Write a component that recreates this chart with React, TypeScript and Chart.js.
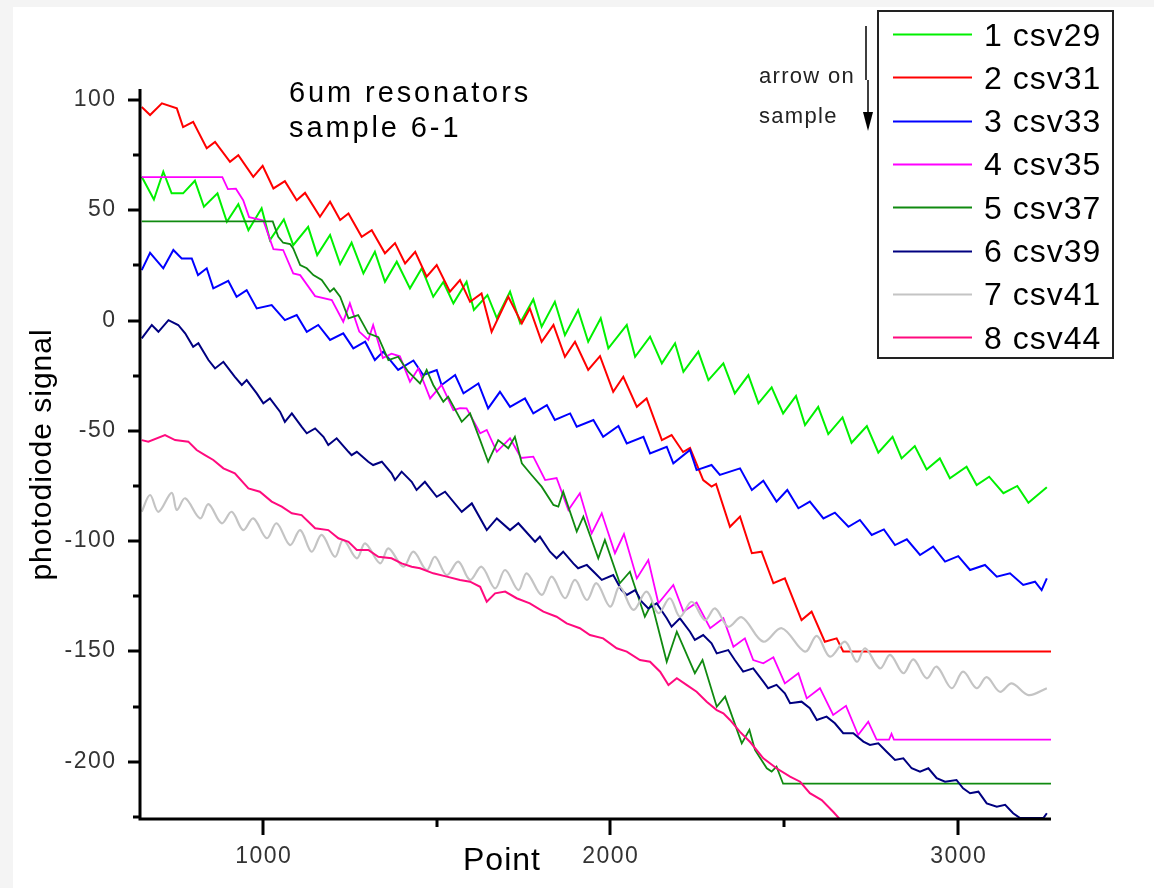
import { useEffect, useRef } from "react";
import { Chart, registerables } from "chart.js";

Chart.register(...registerables);

// ---- axes ----
const X_MIN = 646;
const X_MAX = 3268;
const Y_MIN = -226;
const Y_MAX = 105;
const X_MAJOR = [1000, 2000, 3000];
const X_MINOR = [1500, 2500];
const Y_MAJOR = [100, 50, 0, -50, -100, -150, -200];
const Y_MINOR = [75, 25, -25, -75, -125, -175, -225];
const X_TITLE = "Point";
const Y_TITLE = "photodiode signal";
const NOTE_LINES = ["6um resonators", "sample 6-1"];
const ARROW_LINES = ["arrow on", "sample"];

// ---- series ----
const seriesLabels = ["1 csv29", "2 csv31", "3 csv33", "4 csv35", "5 csv37", "6 csv39", "7 csv41", "8 csv44"];
const seriesColors = ["#00f000", "#ff0000", "#0000ff", "#ff00ff", "#108a10", "#000080", "#c4c4c4", "#ff0a7e"];

const csv29: [number, number][] = [
  [651, 65.2], [686, 54.9], [713, 67.5], [737, 57.7], [770, 57.7], [804, 63.4], [830, 51.6], [869, 57.7],
  [896, 44.8], [929, 52.8], [958, 41.0], [996, 50.9], [1020, 36.5], [1060, 45.9], [1087, 34.2], [1130, 42.5],
  [1156, 29.7], [1193, 38.8], [1222, 25.6], [1255, 35.3], [1289, 21.4], [1322, 31.2], [1351, 17.6], [1385, 26.7],
  [1423, 14.6], [1457, 23.7], [1490, 10.8], [1519, 17.5], [1548, 7.8], [1586, 17.6], [1607, 4.8], [1646, 11.6],
  [1673, 1.1], [1711, 13.1], [1740, -1.1], [1778, 9.6], [1802, -2.8], [1840, 8.5], [1869, -6.6], [1907, 4.8],
  [1936, -9.6], [1972, 1.0], [1994, -12.6], [2047, -2.0], [2071, -16.4], [2114, -7.3], [2148, -19.4], [2186, -10.3],
  [2210, -23.2], [2253, -14.1], [2282, -27.0], [2325, -19.4], [2358, -33.0], [2397, -24.7], [2426, -37.5], [2464, -30.3],
  [2497, -42.1], [2534, -34.2], [2560, -47.4], [2598, -39.1], [2627, -51.5], [2668, -43.9], [2694, -55.4], [2738, -47.8],
  [2771, -59.9], [2812, -52.7], [2838, -62.5], [2876, -56.9], [2910, -67.5], [2948, -62.5], [2977, -71.5], [3025, -66.3],
  [3054, -74.6], [3090, -70.8], [3131, -78.3], [3171, -75.0], [3203, -82.6], [3256, -75.6],
];

const csv31: [number, number][] = [
  [651, 96.8], [675, 93.2], [709, 98.5], [752, 96.2], [770, 87.7], [799, 90.1], [838, 78.1], [862, 81.0],
  [905, 72.0], [929, 75.0], [972, 65.2], [999, 70.2], [1030, 59.9], [1063, 63.2], [1097, 54.6], [1121, 57.9],
  [1164, 47.1], [1193, 53.9], [1222, 45.6], [1246, 48.6], [1284, 38.0], [1313, 41.0], [1351, 30.5], [1380, 35.1],
  [1409, 25.9], [1438, 31.2], [1471, 19.9], [1500, 25.2], [1538, 13.1], [1567, 18.4], [1596, 8.5], [1629, 12.3],
  [1658, -5.1], [1706, 10.8], [1745, -1.3], [1768, 5.5], [1802, -9.6], [1836, -2.0], [1869, -16.4], [1898, -9.6],
  [1936, -22.4], [1970, -16.1], [2008, -32.3], [2037, -25.5], [2076, -39.1], [2104, -35.3], [2148, -54.2], [2176, -51.9],
  [2209, -59.6], [2229, -57.8], [2267, -72.3], [2291, -75.3], [2304, -74.1], [2344, -93.5], [2373, -88.9], [2407, -105.5],
  [2435, -104.8], [2469, -119.1], [2502, -116.9], [2550, -135.8], [2579, -132.0], [2617, -145.6], [2651, -144.1], [2670, -150.0],
  [3268, -150.0],
];

const csv33: [number, number][] = [
  [651, 22.9], [675, 30.7], [713, 23.7], [742, 32.0], [766, 28.2], [795, 28.2], [813, 20.6], [838, 23.7],
  [857, 14.6], [900, 18.0], [924, 10.8], [953, 13.8], [982, 5.5], [1025, 7.0], [1063, 0.2], [1097, 2.5],
  [1126, -5.1], [1159, -2.0], [1193, -8.8], [1231, -5.8], [1260, -12.6], [1294, -9.6], [1322, -17.9], [1346, -14.1],
  [1389, -22.4], [1433, -18.1], [1461, -24.7], [1500, -22.4], [1514, -29.2], [1553, -24.7], [1577, -33.0], [1620, -28.5],
  [1648, -39.8], [1682, -32.3], [1711, -39.1], [1754, -35.3], [1778, -42.1], [1817, -38.3], [1840, -45.1], [1884, -42.1],
  [1903, -48.1], [1951, -45.1], [1979, -52.7], [2023, -47.8], [2047, -55.7], [2095, -52.7], [2114, -60.2], [2162, -57.2],
  [2181, -64.7], [2229, -58.7], [2248, -67.8], [2291, -65.5], [2315, -70.0], [2373, -67.0], [2407, -76.8], [2440, -72.6],
  [2478, -82.1], [2509, -76.8], [2541, -85.1], [2574, -82.1], [2613, -89.7], [2646, -87.1], [2685, -93.5], [2718, -90.4],
  [2752, -97.2], [2787, -94.7], [2819, -101.8], [2853, -99.2], [2891, -106.3], [2929, -102.5], [2963, -109.3], [3001, -106.8],
  [3035, -113.1], [3078, -110.8], [3112, -116.1], [3150, -114.6], [3188, -119.9], [3222, -118.4], [3241, -122.2], [3256, -116.9],
];

const csv35: [number, number][] = [
  [651, 65.0], [883, 65.0], [899, 59.6], [922, 59.8], [943, 54.6], [960, 46.9], [1001, 45.4], [1014, 39.5],
  [1030, 32.4], [1058, 32.0], [1087, 21.4], [1107, 20.6], [1150, 11.1], [1198, 9.3], [1231, -0.5], [1250, 7.8],
  [1277, -5.0], [1303, -8.8], [1317, -2.0], [1345, -17.0], [1370, -15.0], [1394, -16.2], [1423, -27.7], [1447, -21.7],
  [1481, -35.3], [1514, -29.2], [1548, -40.6], [1567, -39.7], [1586, -39.8], [1625, -51.1], [1644, -49.6], [1673, -59.5],
  [1711, -53.4], [1743, -62.3], [1778, -61.7], [1812, -72.3], [1845, -71.4], [1879, -85.9], [1912, -78.3], [1946, -96.5],
  [1975, -87.4], [2013, -105.5], [2039, -96.8], [2076, -116.9], [2109, -108.6], [2138, -128.2], [2181, -119.9], [2210, -132.0],
  [2248, -127.9], [2287, -139.5], [2325, -135.0], [2354, -147.9], [2387, -144.1], [2411, -153.9], [2440, -155.4], [2469, -152.7],
  [2502, -164.5], [2541, -159.9], [2565, -171.3], [2603, -166.7], [2641, -178.8], [2678, -174.7], [2713, -187.9], [2742, -181.9],
  [2766, -190.0], [2802, -190.0], [2809, -187.4], [2816, -190.0], [3268, -190.0],
];

const csv37: [number, number][] = [
  [651, 45.0], [1028, 45.0], [1044, 38.0], [1058, 35.3], [1078, 34.7], [1087, 32.7], [1107, 25.2], [1126, 23.7],
  [1145, 20.6], [1169, 18.4], [1193, 13.1], [1204, 14.6], [1222, 10.8], [1246, 1.0], [1274, 2.5], [1303, -5.8],
  [1332, -7.5], [1361, -17.9], [1389, -16.4], [1418, -23.2], [1452, -28.5], [1471, -22.4], [1490, -29.2], [1519, -36.8],
  [1533, -34.5], [1572, -45.9], [1596, -42.1], [1625, -54.2], [1648, -64.0], [1677, -54.2], [1706, -57.9], [1725, -52.7],
  [1745, -64.7], [1773, -70.0], [1802, -75.3], [1836, -83.6], [1850, -84.4], [1864, -77.6], [1903, -95.7], [1922, -88.9],
  [1965, -107.8], [1984, -99.5], [2027, -119.1], [2056, -113.9], [2099, -134.3], [2119, -128.2], [2162, -154.7], [2191, -141.1],
  [2243, -159.9], [2265, -153.9], [2306, -175.1], [2330, -170.5], [2378, -191.7], [2400, -185.6], [2416, -194.7], [2450, -203.0],
  [2464, -204.5], [2478, -202.3], [2497, -210.0], [3268, -210.0],
];

const csv39: [number, number][] = [
  [651, -8.1], [680, -2.0], [699, -5.1], [728, 0.2], [756, -2.0], [776, -5.8], [799, -11.9], [814, -10.3],
  [843, -17.9], [862, -21.7], [886, -18.7], [919, -25.5], [939, -29.2], [953, -27.0], [982, -33.0], [1001, -37.5],
  [1020, -35.3], [1049, -41.3], [1063, -45.9], [1083, -42.1], [1111, -48.1], [1126, -51.1], [1150, -48.9], [1174, -52.7],
  [1188, -56.4], [1212, -53.4], [1246, -59.5], [1255, -61.0], [1270, -59.5], [1303, -64.0], [1317, -65.5], [1342, -64.0],
  [1370, -69.3], [1380, -72.3], [1399, -68.5], [1428, -73.1], [1442, -76.8], [1466, -73.1], [1500, -79.9], [1524, -77.6],
  [1572, -86.7], [1601, -82.9], [1644, -95.0], [1673, -89.7], [1711, -95.0], [1735, -91.9], [1783, -100.3], [1797, -98.0],
  [1826, -104.8], [1845, -107.8], [1864, -104.8], [1893, -110.1], [1907, -112.3], [1932, -110.8], [1956, -114.6], [1975, -117.6],
  [2008, -115.4], [2032, -122.2], [2047, -124.4], [2071, -122.2], [2090, -127.5], [2109, -130.5], [2133, -128.2], [2162, -135.0],
  [2176, -138.8], [2200, -135.0], [2229, -141.1], [2243, -144.8], [2267, -142.6], [2291, -146.3], [2306, -150.9], [2339, -149.4],
  [2358, -153.9], [2382, -159.2], [2411, -157.7], [2440, -163.7], [2454, -166.7], [2478, -165.2], [2502, -169.0], [2517, -173.5],
  [2550, -172.8], [2574, -175.8], [2594, -181.1], [2622, -179.6], [2646, -182.6], [2670, -187.1], [2699, -187.1], [2728, -190.9],
  [2747, -192.4], [2771, -191.7], [2795, -195.5], [2819, -199.2], [2843, -198.5], [2867, -203.0], [2891, -204.5], [2915, -203.0],
  [2939, -207.5], [2963, -209.1], [2996, -208.3], [3015, -212.1], [3035, -214.3], [3059, -213.6], [3083, -218.9], [3112, -220.4],
  [3136, -219.6], [3159, -223.4], [3179, -225.6], [3246, -225.6], [3256, -223.4],
];

const csv41: [number, number][] = [
  [651, -86.7], [675, -79.1], [699, -86.7], [737, -78.1], [752, -85.9], [776, -80.6], [819, -89.7], [843, -83.2],
  [881, -91.9], [910, -86.7], [943, -95.0], [972, -89.7], [1011, -98.7], [1039, -91.9], [1078, -101.8], [1107, -95.0],
  [1140, -104.8], [1169, -97.2], [1207, -107.1], [1231, -99.5], [1270, -107.8], [1294, -101.0], [1337, -110.1], [1361, -103.3],
  [1404, -111.6], [1433, -104.8], [1471, -113.1], [1495, -107.1], [1529, -115.4], [1562, -109.3], [1596, -117.6], [1629, -111.6],
  [1668, -121.4], [1697, -113.1], [1735, -122.2], [1759, -114.6], [1802, -124.4], [1831, -116.1], [1869, -125.9], [1898, -117.6],
  [1932, -126.7], [1960, -119.1], [1999, -129.7], [2027, -120.7], [2066, -131.2], [2104, -122.9], [2138, -132.7], [2171, -125.9],
  [2200, -134.3], [2234, -127.5], [2272, -135.8], [2301, -130.5], [2339, -138.8], [2378, -134.5], [2440, -145.6], [2493, -139.5],
  [2560, -150.1], [2594, -143.0], [2632, -152.4], [2675, -145.6], [2709, -154.7], [2733, -148.6], [2776, -157.7], [2805, -151.6],
  [2843, -159.9], [2872, -153.6], [2910, -162.2], [2939, -156.9], [2982, -166.7], [3015, -159.2], [3054, -166.7], [3083, -161.7],
  [3121, -168.3], [3155, -164.5], [3203, -169.8], [3256, -166.7],
];

const csv44: [number, number][] = [
  [651, -54.2], [670, -54.9], [718, -51.9], [747, -54.2], [785, -54.9], [809, -58.7], [833, -61.0], [857, -63.2],
  [886, -67.0], [919, -69.3], [958, -76.1], [991, -77.6], [1025, -82.1], [1054, -84.4], [1083, -87.4], [1111, -88.2],
  [1150, -94.2], [1188, -95.0], [1217, -98.7], [1246, -100.3], [1270, -104.0], [1303, -104.0], [1332, -107.1], [1370, -107.8],
  [1399, -110.1], [1428, -111.6], [1452, -112.3], [1490, -114.6], [1529, -116.1], [1567, -117.6], [1596, -118.4], [1625, -120.7],
  [1644, -127.5], [1668, -123.7], [1697, -122.9], [1730, -125.9], [1768, -128.2], [1807, -132.0], [1845, -134.3], [1874, -137.3],
  [1912, -139.5], [1941, -142.6], [1979, -144.1], [2018, -148.6], [2047, -150.1], [2085, -153.9], [2114, -154.7], [2143, -159.2],
  [2167, -165.2], [2191, -162.2], [2219, -165.2], [2248, -168.3], [2277, -172.8], [2306, -176.6], [2325, -178.1], [2344, -181.1],
  [2373, -186.5], [2402, -191.1], [2440, -198.5], [2478, -203.0], [2517, -206.8], [2546, -209.1], [2574, -214.3], [2608, -217.4],
  [2641, -222.7], [2675, -228.7],
];

const seriesData = [csv29, csv31, csv33, csv35, csv37, csv39, csv41, csv44];
const seriesTension = [0, 0, 0, 0, 0, 0, 0.35, 0];
const seriesWidth = [2, 2, 2, 1.8, 1.8, 2, 2.2, 2];

const FONT = '"Liberation Sans", Arial, Helvetica, sans-serif';

function txt(ctx: CanvasRenderingContext2D, s: string, x: number, y: number, size: number, spacing: number, color: string, align: CanvasTextAlign = "left", baseline: CanvasTextBaseline = "alphabetic") {
  ctx.font = `${size}px ${FONT}`;
  (ctx as any).letterSpacing = `${spacing}px`;
  ctx.fillStyle = color;
  ctx.textAlign = align;
  ctx.textBaseline = baseline;
  let dx = 0;
  if (align === "center") dx = spacing / 2;
  if (align === "right") dx = spacing;
  ctx.fillText(s, x + dx, y);
}

const decor = {
  id: "decor",
  beforeDraw(chart: any) {
    const ctx = chart.ctx as CanvasRenderingContext2D;
    ctx.save();
    ctx.fillStyle = "#f4f4f4";
    ctx.fillRect(0, 0, chart.width, chart.height);
    ctx.fillStyle = "#ffffff";
    ctx.fillRect(13, 7, chart.width - 13, chart.height - 7);
    ctx.restore();
  },
  afterDraw(chart: any) {
    const ctx = chart.ctx as CanvasRenderingContext2D;
    const a = chart.chartArea;
    const xs = chart.scales.x;
    const ys = chart.scales.y;
    ctx.save();
    // axes
    ctx.strokeStyle = "#000";
    ctx.lineWidth = 3;
    ctx.lineCap = "butt";
    ctx.beginPath();
    ctx.moveTo(a.left, a.top);
    ctx.lineTo(a.left, a.bottom);
    ctx.lineTo(a.right, a.bottom);
    ctx.stroke();
    // y ticks
    for (const v of Y_MAJOR) {
      const p = Math.round(ys.getPixelForValue(v));
      ctx.beginPath(); ctx.moveTo(a.left - 12, p); ctx.lineTo(a.left, p); ctx.stroke();
      txt(ctx, String(v), a.left - 25, p, 23, 1.5, "#333", "right", "middle");
    }
    for (const v of Y_MINOR) {
      const p = Math.round(ys.getPixelForValue(v));
      ctx.beginPath(); ctx.moveTo(a.left - 7, p); ctx.lineTo(a.left, p); ctx.stroke();
    }
    // x ticks
    for (const v of X_MAJOR) {
      const p = Math.round(xs.getPixelForValue(v));
      ctx.beginPath(); ctx.moveTo(p, a.bottom); ctx.lineTo(p, a.bottom + 16); ctx.stroke();
      txt(ctx, String(v), p, a.bottom + 38, 23, 1.5, "#333", "center", "middle");
    }
    for (const v of X_MINOR) {
      const p = Math.round(xs.getPixelForValue(v));
      ctx.beginPath(); ctx.moveTo(p, a.bottom); ctx.lineTo(p, a.bottom + 8); ctx.stroke();
    }
    // axis titles
    txt(ctx, X_TITLE, 463, 870, 32, 1, "#000", "left");
    ctx.save();
    ctx.translate(51, 455);
    ctx.rotate(-Math.PI / 2);
    txt(ctx, Y_TITLE, 0, 0, 30, 1, "#000", "center");
    ctx.restore();
    // note text
    txt(ctx, NOTE_LINES[0], 289, 102, 29, 2.9, "#000");
    txt(ctx, NOTE_LINES[1], 289, 137, 29, 2.9, "#000");
    // arrow note
    txt(ctx, ARROW_LINES[0], 759, 83, 22, 1.3, "#222");
    txt(ctx, ARROW_LINES[1], 759, 123, 22, 1.3, "#222");
    ctx.strokeStyle = "#000";
    ctx.lineWidth = 1.5;
    ctx.beginPath();
    ctx.moveTo(866, 26); ctx.lineTo(866, 80);
    ctx.moveTo(868, 80); ctx.lineTo(868, 116);
    ctx.stroke();
    ctx.fillStyle = "#000";
    ctx.beginPath();
    ctx.moveTo(863, 112); ctx.lineTo(873, 112); ctx.lineTo(868, 131); ctx.closePath();
    ctx.fill();
    // legend
    ctx.fillStyle = "#fff";
    ctx.fillRect(878, 11, 235, 347);
    ctx.strokeStyle = "#222";
    ctx.lineWidth = 2;
    ctx.strokeRect(878, 11, 235, 347);
    for (let i = 0; i < seriesLabels.length; i++) {
      const y = 34 + i * 43.33;
      ctx.strokeStyle = seriesColors[i];
      ctx.lineWidth = 2;
      ctx.beginPath(); ctx.moveTo(893, Math.round(y) + 0.5); ctx.lineTo(972, Math.round(y) + 0.5); ctx.stroke();
      txt(ctx, seriesLabels[i], 984, y + 11.5, 32, 1, "#000");
    }
    ctx.restore();
  },
};

export default function App() {
  const ref = useRef<HTMLCanvasElement | null>(null);
  useEffect(() => {
    if (!ref.current) return;
    const chart = new Chart(ref.current, {
      type: "line",
      data: {
        datasets: seriesData.map((d, i) => ({
          label: seriesLabels[i],
          data: d.map(([x, y]) => ({ x, y })),
          borderColor: seriesColors[i],
          backgroundColor: seriesColors[i],
          borderWidth: seriesWidth[i],
          pointRadius: 0,
          tension: seriesTension[i],
          fill: false,
          order: seriesData.length - i,
        })),
      },
      options: {
        responsive: false,
        animation: false,
        devicePixelRatio: 1,
        layout: { padding: { left: 0, top: 89, right: 103, bottom: 29 } },
        plugins: { legend: { display: false }, title: { display: false }, tooltip: { enabled: false } },
        events: [],
        scales: {
          x: {
            type: "linear",
            min: X_MIN,
            max: X_MAX,
            grid: { display: false },
            border: { display: false },
            ticks: { display: false },
            afterFit: (s: any) => { s.height = 40; },
          },
          y: {
            type: "linear",
            min: Y_MIN,
            max: Y_MAX,
            grid: { display: false },
            border: { display: false },
            ticks: { display: false },
            afterFit: (s: any) => { s.width = 140; },
          },
        },
      },
      plugins: [decor],
    });
    return () => chart.destroy();
  }, []);
  return (
    <div style={{ position: "absolute", left: 0, top: 0, width: 1154, height: 888 }}>
      <canvas ref={ref} width={1154} height={888} style={{ display: "block", width: 1154, height: 888 }} />
    </div>
  );
}
